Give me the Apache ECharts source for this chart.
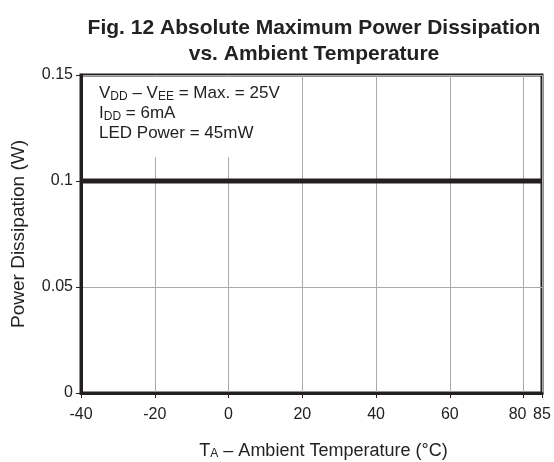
<!DOCTYPE html>
<html>
<head>
<meta charset="utf-8">
<script src="https://cdn.jsdelivr.net/npm/echarts@6/dist/echarts.min.js"></script>
<style>html,body{margin:0;padding:0;background:#fff}#c{width:554px;height:462px}</style>
</head>
<body>
<div id="c"></div>
<script>
// Data
const temperatureC = [-40, 85];
const powerW = [0.1, 0.1];
const xTickLabels = [-40, -20, 0, 20, 40, 60, 80, 85];
const yTickLabels = [0, 0.05, 0.1, 0.15];
const titleLines = ['Fig. 12 Absolute Maximum Power Dissipation', 'vs. Ambient Temperature'];
const noteLines = ['V{s|DD} – V{s|EE} = Max. = 25V', 'I{s|DD} = 6mA', 'LED Power = 45mW'];

const FONT = '"Liberation Sans", Arial, Helvetica, sans-serif';
const TXT = '#222';
const chart = echarts.init(document.getElementById('c'), null, {renderer: 'canvas'});
const G = {left: 81, right: 12, top: 75, bottom: 69};
const labelFont = {fontFamily: FONT, fontSize: 16, color: TXT};

chart.setOption({
  animation: false,
  backgroundColor: '#fff',
  title: {
    text: titleLines.join('\n'),
    left: 309, top: 10, textAlign: 'center',
    textStyle: {fontFamily: FONT, fontSize: 21, fontWeight: 'bold', color: TXT, lineHeight: 26}
  },
  grid: {left: G.left, right: G.right, top: G.top, bottom: G.bottom, containLabel: false, outerBoundsMode: 'none',
    show: true, borderColor: '#231f20', borderWidth: 3, backgroundColor: 'transparent'},
  xAxis: {
    type: 'value', min: xTickLabels[0], max: xTickLabels[xTickLabels.length - 1], interval: 20,
    name: 'T{s|A} – Ambient Temperature (°C)', nameLocation: 'middle', nameGap: 49,
    nameTextStyle: {fontFamily: FONT, fontSize: 18, color: TXT, padding: [0, 0, 0, 24],
      rich: {s: {fontFamily: FONT, fontSize: 12, color: TXT, lineHeight: 13, verticalAlign: 'bottom'}}},
    axisLine: {show: true, onZero: false, lineStyle: {color: '#231f20', width: 3}},
    axisTick: {show: true, length: 5, lineStyle: {color: '#231f20', width: 1}},
    axisLabel: Object.assign({show: true, showMaxLabel: true, showMinLabel: true, margin: 14,
      formatter: v => (xTickLabels.indexOf(v) === xTickLabels.length - 2 ? '{l|' + v + '}' : '{r|' + v + '}'),
      rich: {
        l: Object.assign({padding: [0, 12, 0, 0]}, labelFont),
        r: Object.assign({}, labelFont)
      }}, labelFont),
    splitLine: {show: true, lineStyle: {color: '#aaa', width: 1}}
  },
  yAxis: {
    type: 'value', min: yTickLabels[0], max: yTickLabels[yTickLabels.length - 1], interval: 0.05,
    name: 'Power Dissipation (W)', nameLocation: 'middle', nameGap: 53,
    nameTextStyle: {fontFamily: FONT, fontSize: 19, color: TXT},
    axisLine: {show: true, onZero: false, lineStyle: {color: '#231f20', width: 3}},
    axisTick: {show: true, length: 5, lineStyle: {color: '#231f20', width: 1}},
    axisLabel: Object.assign({margin: 8,
      formatter: v => String(Math.round(v * 100) / 100)}, labelFont),
    splitLine: {show: true, lineStyle: {color: '#aaa', width: 1}}
  },
  series: [{
    type: 'line',
    data: temperatureC.map((t, i) => [t, powerW[i]]),
    symbol: 'none',
    lineStyle: {color: '#231f20', width: 5},
    z: 5
  }],
  graphic: [
    {type: 'rect', z: 10, shape: {x: G.left + 2, y: G.top + 2, width: 208, height: 80}, style: {fill: '#fff'}},
    {type: 'text', z: 11, left: 99, top: 83,
      style: {text: noteLines.join('\n'), fontFamily: FONT, fontSize: 17, fill: TXT, lineHeight: 20,
        rich: {s: {fontFamily: FONT, fontSize: 12, fill: TXT, lineHeight: 12, verticalAlign: 'bottom'}}}}
  ]
});
</script>
</body>
</html>
